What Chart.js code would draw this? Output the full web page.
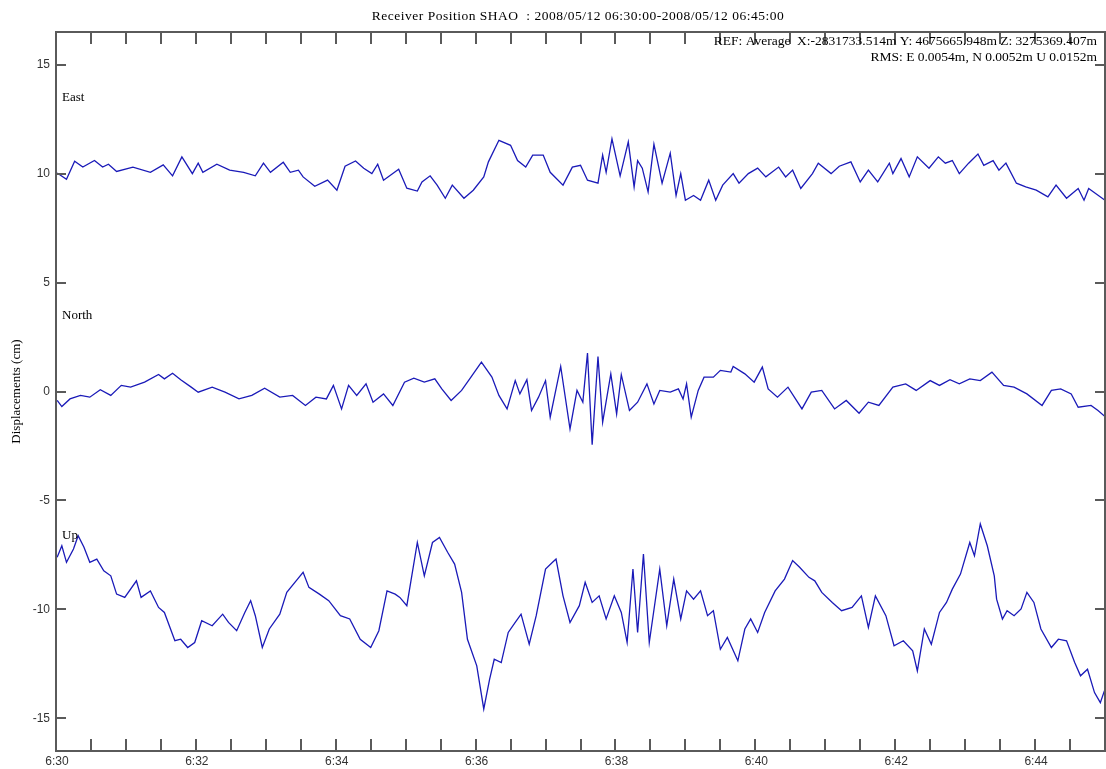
<!DOCTYPE html>
<html>
<head>
<meta charset="utf-8">
<title>Receiver Position SHAO</title>
<script src="https://cdn.jsdelivr.net/npm/chart.js@4.4.1/dist/chart.umd.min.js"></script>
<style>
body { margin: 0; background: #fff; }
#wrap { width: 1106px; height: 769px; }
</style>
</head>
<body>
<div id="wrap"><canvas id="posChart" width="1106" height="769"></canvas></div>
<script>
// time = seconds after 06:30:00, displacement in cm
const eastTime = [1,9,16,23,33,40,45,52,66,81,92,100,108,117,122,126,138,149,161,171,178,184,195,201,208,212,222,233,241,248,257,264,271,276,281,294,301,310,314,321,327,334,340,350,358,367,371,380,390,396,403,409,418,424,435,443,450,456,465,469,472,477,484,491,496,499,503,508,513,520,527,532,536,540,547,553,560,566,572,581,586,594,602,609,620,626,632,639,649,654,665,672,682,690,697,705,715,718,725,732,739,749,757,763,769,775,783,791,796,804,809,815,824,832,841,851,858,867,877,882,886,900];
const eastDisp = [10.03,9.74,10.57,10.3,10.6,10.3,10.43,10.1,10.3,10.06,10.4,9.9,10.77,10.0,10.48,10.06,10.43,10.16,10.06,9.9,10.48,10.06,10.52,10.06,10.16,9.85,9.42,9.7,9.24,10.34,10.58,10.25,10.0,10.43,9.7,10.2,9.33,9.2,9.62,9.9,9.47,8.87,9.47,8.87,9.24,9.85,10.54,11.53,11.3,10.6,10.3,10.85,10.85,10.06,9.47,10.3,10.38,9.7,9.56,10.85,10.06,11.6,9.9,11.46,9.39,10.6,10.25,9.16,11.35,9.56,10.94,9.0,10.0,8.78,9.0,8.78,9.7,8.78,9.47,10.0,9.56,10.0,10.25,9.85,10.3,9.85,10.16,9.32,10.0,10.48,10.0,10.34,10.54,9.62,10.16,9.62,10.48,10.0,10.69,9.85,10.77,10.25,10.77,10.48,10.6,10.0,10.48,10.9,10.38,10.6,10.16,10.48,9.56,9.39,9.24,8.93,9.47,8.87,9.32,8.78,9.32,8.78];

const northTime = [1,5,12,21,29,38,47,56,64,76,88,93,100,107,116,122,134,145,157,168,179,192,203,214,223,232,238,245,251,258,266,272,281,289,299,307,316,325,331,339,348,356,365,374,380,387,394,398,404,408,414,420,424,433,441,447,452,456,460,465,469,476,481,485,492,499,507,513,518,527,534,538,541,545,551,556,564,570,579,581,591,599,606,611,619,628,640,648,657,668,678,689,697,706,718,729,738,750,758,767,775,784,793,803,813,822,833,846,854,862,871,877,888,894,900];
const northDisp = [-0.41,-0.69,-0.34,-0.18,-0.26,0.08,-0.18,0.28,0.2,0.43,0.78,0.58,0.84,0.54,0.2,-0.03,0.2,-0.03,-0.34,-0.18,0.15,-0.26,-0.18,-0.64,-0.26,-0.34,0.28,-0.8,0.28,-0.18,0.35,-0.49,-0.11,-0.64,0.43,0.61,0.43,0.58,0.12,-0.41,0.05,0.66,1.35,0.66,-0.18,-0.8,0.5,-0.11,0.54,-0.87,-0.26,0.5,-1.18,1.15,-1.72,0.05,-0.49,1.76,-2.44,1.61,-1.41,0.81,-1.03,0.77,-0.87,-0.49,0.35,-0.57,0.05,-0.03,0.12,-0.34,0.35,-1.18,0.05,0.66,0.66,0.97,0.89,1.15,0.81,0.43,1.12,0.12,-0.26,0.2,-0.8,-0.03,0.05,-0.8,-0.41,-1.0,-0.49,-0.64,0.2,0.35,0.05,0.5,0.28,0.54,0.35,0.58,0.5,0.89,0.28,0.2,-0.11,-0.64,0.05,0.12,-0.11,-0.72,-0.64,-0.87,-1.15];

const upTime = [1,5,9,15,19,24,29,35,41,47,52,59,69,73,81,88,93,102,107,113,119,125,134,143,148,155,162,167,171,177,183,192,198,206,212,217,226,234,244,252,261,270,277,284,291,295,301,310,316,323,329,336,342,348,353,361,367,372,376,382,388,394,399,406,412,420,426,429,435,441,449,454,460,466,472,479,485,490,495,499,504,509,518,524,530,536,541,547,553,559,564,570,576,585,591,596,602,608,617,625,632,638,646,651,657,666,674,683,691,697,703,712,719,727,735,739,745,751,758,764,769,776,784,788,793,799,805,807,812,816,822,828,833,839,845,854,860,867,874,879,885,891,896,900];
const upDisp = [-7.61,-7.08,-7.84,-7.23,-6.62,-7.15,-7.84,-7.69,-8.23,-8.46,-9.3,-9.45,-8.69,-9.45,-9.15,-9.91,-10.14,-11.44,-11.37,-11.75,-11.52,-10.52,-10.75,-10.22,-10.6,-10.98,-10.14,-9.6,-10.29,-11.75,-10.9,-10.22,-9.22,-8.69,-8.3,-8.99,-9.3,-9.6,-10.29,-10.44,-11.37,-11.75,-10.98,-9.15,-9.3,-9.45,-9.83,-6.93,-8.46,-6.93,-6.7,-7.38,-7.92,-9.22,-11.37,-12.59,-14.57,-13.21,-12.29,-12.44,-11.06,-10.6,-10.22,-11.6,-10.29,-8.15,-7.84,-7.69,-9.38,-10.6,-9.83,-8.76,-9.68,-9.38,-10.44,-9.38,-10.14,-11.52,-8.15,-11.06,-7.46,-11.52,-8.15,-10.75,-8.61,-10.44,-9.15,-9.53,-9.15,-10.29,-10.06,-11.83,-11.29,-12.36,-10.9,-10.44,-11.06,-10.14,-9.15,-8.61,-7.76,-8.07,-8.53,-8.69,-9.22,-9.68,-10.06,-9.91,-9.38,-10.83,-9.38,-10.29,-11.67,-11.44,-11.9,-12.82,-10.9,-11.6,-10.14,-9.68,-9.07,-8.38,-6.93,-7.54,-6.08,-7.08,-8.46,-9.53,-10.44,-10.06,-10.29,-9.98,-9.22,-9.68,-10.9,-11.75,-11.37,-11.44,-12.44,-13.05,-12.75,-13.82,-14.28,-13.66];

const xTickSec = [0,120,240,360,480,600,720,840];
const xTickLabels = ['6:30','6:32','6:34','6:36','6:38','6:40','6:42','6:44'];
const yTickVals = [-15,-10,-5,0,5,10,15];
const seriesNames = ['East','North','Up'];
const seriesLabelAt = [13.5,3.5,-6.6];   // y value where each name sits

const xMax = 900;
const minorStep = 30;
const lineColor = '#1a1ab8';

function toPoints(times, vals){
  return times.map((t,i) => ({x:t, y:vals[i]}));
}

// draws the frame, inward ticks and all text
const frame = {
  id:'frame',
  afterDraw(chart){
    const {ctx, chartArea:a, scales:{x,y}} = chart;
    ctx.save();
    ctx.strokeStyle = '#5a5a5a';
    ctx.lineWidth = 2;
    ctx.strokeRect(a.left, a.top, a.right-a.left, a.bottom-a.top);

    ctx.beginPath();
    for(let s = minorStep; s < xMax; s += minorStep){
      const px = Math.round(x.getPixelForValue(s));
      ctx.moveTo(px, a.top); ctx.lineTo(px, a.top+12);
      ctx.moveTo(px, a.bottom); ctx.lineTo(px, a.bottom-12);
    }
    yTickVals.forEach(v => {
      const py = Math.round(y.getPixelForValue(v));
      ctx.moveTo(a.left, py); ctx.lineTo(a.left+10, py);
      ctx.moveTo(a.right, py); ctx.lineTo(a.right-10, py);
    });
    ctx.stroke();

    ctx.fillStyle = '#333';
    ctx.font = '12px "Liberation Sans"';
    ctx.textAlign = 'center';
    ctx.textBaseline = 'middle';
    xTickSec.forEach((s,i) => {
      ctx.fillText(xTickLabels[i], x.getPixelForValue(s)+1, a.bottom+11);
    });
    ctx.textAlign = 'right';
    yTickVals.forEach(v => {
      ctx.fillText(String(v), a.left-6, y.getPixelForValue(v));
    });

    ctx.fillStyle = '#000';
    ctx.font = '13.5px "Liberation Serif"';
    ctx.textAlign = 'center';
    ctx.letterSpacing = '0.5px';
    ctx.fillText('Receiver Position SHAO  : 2008/05/12 06:30:00-2008/05/12 06:45:00', 578, 16);
    ctx.letterSpacing = '0px';
    ctx.textAlign = 'right';
    ctx.fillText('REF: Average  X:-2831733.514m Y: 4675665.948m Z: 3275369.407m', 1097, 41);
    ctx.fillText('RMS: E 0.0054m, N 0.0052m U 0.0152m', 1097, 57);
    ctx.font = '13px "Liberation Serif"';
    ctx.textAlign = 'left';
    seriesNames.forEach((n,i) => {
      ctx.fillText(n, a.left+6, y.getPixelForValue(seriesLabelAt[i]));
    });

    ctx.translate(17, (a.top+a.bottom)/2);
    ctx.rotate(-Math.PI/2);
    ctx.textAlign = 'center';
    ctx.fillText('Displacements (cm)', 0, 0);
    ctx.restore();
  }
};

new Chart(document.getElementById('posChart'), {
  type:'line',
  data:{
    datasets:[
      {label:'East', data:toPoints(eastTime, eastDisp)},
      {label:'North', data:toPoints(northTime, northDisp)},
      {label:'Up', data:toPoints(upTime, upDisp)}
    ]
  },
  options:{
    responsive:false,
    animation:false,
    devicePixelRatio:1,
    layout:{padding:{left:56, top:32, right:1, bottom:18}},
    elements:{
      point:{radius:0},
      line:{borderColor:lineColor, borderWidth:1.3, tension:0}
    },
    plugins:{legend:{display:false}, tooltip:{enabled:false}},
    scales:{
      x:{type:'linear', min:0, max:xMax, display:false},
      y:{min:-16.5, max:16.5, display:false}
    }
  },
  plugins:[frame]
});
</script>
</body>
</html>
